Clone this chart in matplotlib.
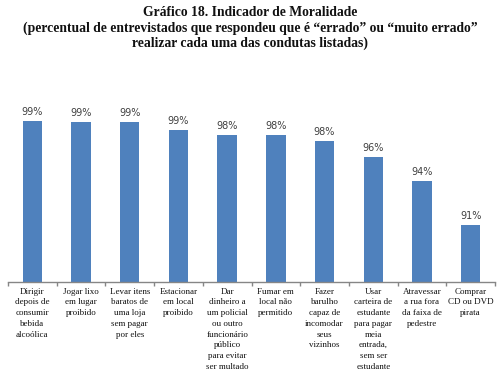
import matplotlib
matplotlib.use("Agg")
import matplotlib.pyplot as plt
from matplotlib.transforms import blended_transform_factory

title = ("Gráfico 18. Indicador de Moralidade\n"
         "(percentual de entrevistados que respondeu que é “errado” ou “muito errado”\n"
         "realizar cada uma das condutas listadas)")

categories = [
    "Dirigir\ndepois de\nconsumir\nbebida\nalcoólica",
    "Jogar lixo\nem lugar\nproibido",
    "Levar itens\nbaratos de\numa loja\nsem pagar\npor eles",
    "Estacionar\nem local\nproibido",
    "Dar\ndinheiro a\num policial\nou outro\nfuncionário\npúblico\npara evitar\nser multado",
    "Fumar em\nlocal não\npermitido",
    "Fazer\nbarulho\ncapaz de\nincomodar\nseus\nvizinhos",
    "Usar\ncarteira de\nestudante\npara pagar\nmeia\nentrada,\nsem ser\nestudante",
    "Atravessar\na rua fora\nda faixa de\npedestre",
    "Comprar\nCD ou DVD\npirata",
]
values = [99.78, 99.72, 99.68, 99.05, 98.64, 98.62, 98.16, 96.83, 94.90, 91.30]
value_labels = ["99%", "99%", "99%", "99%", "98%", "98%", "98%", "96%", "94%", "91%"]

W, H = 500, 385
fig = plt.figure(figsize=(W / 100, H / 100), dpi=100)
ax = fig.add_axes([8 / W, 102.7 / H, 487 / W, 182.3 / H])

x = list(range(len(categories)))
bars = ax.bar(x, values, width=0.4, color="#4F81BD", edgecolor="none", zorder=2)
ax.set_xlim(-0.5, len(categories) - 0.5)
ax.set_ylim(86.67, 101.49)

for xi, v, lab in zip(x, values, value_labels):
    ax.annotate(lab, (xi, v), xytext=(0, 3), textcoords="offset points",
                ha="center", va="bottom", fontsize=7, color="#404040",
                family="DejaVu Sans")

for s in ["top", "right", "left"]:
    ax.spines[s].set_visible(False)
ax.spines["bottom"].set_color("#868686")
ax.spines["bottom"].set_linewidth(1.0)
ax.set_yticks([])
ax.set_xticks([i - 0.5 for i in range(len(categories) + 1)])
ax.set_xticklabels([])
ax.tick_params(axis="x", length=3, color="#868686", width=1.0, direction="out")

trans = blended_transform_factory(ax.transData, ax.transAxes)
for xi, c in zip(x, categories):
    ax.text(xi, -0.03, c, transform=trans, ha="center", va="top",
            fontsize=6.5, family="Liberation Serif", linespacing=1.45,
            color="#111111")

fig.text(0.5, 1 - 6 / H, title, ha="center", va="top", fontsize=9.8,
         fontweight="bold", family="Liberation Serif", linespacing=1.2,
         color="#111111")

fig.savefig("out.png", dpi=100)
